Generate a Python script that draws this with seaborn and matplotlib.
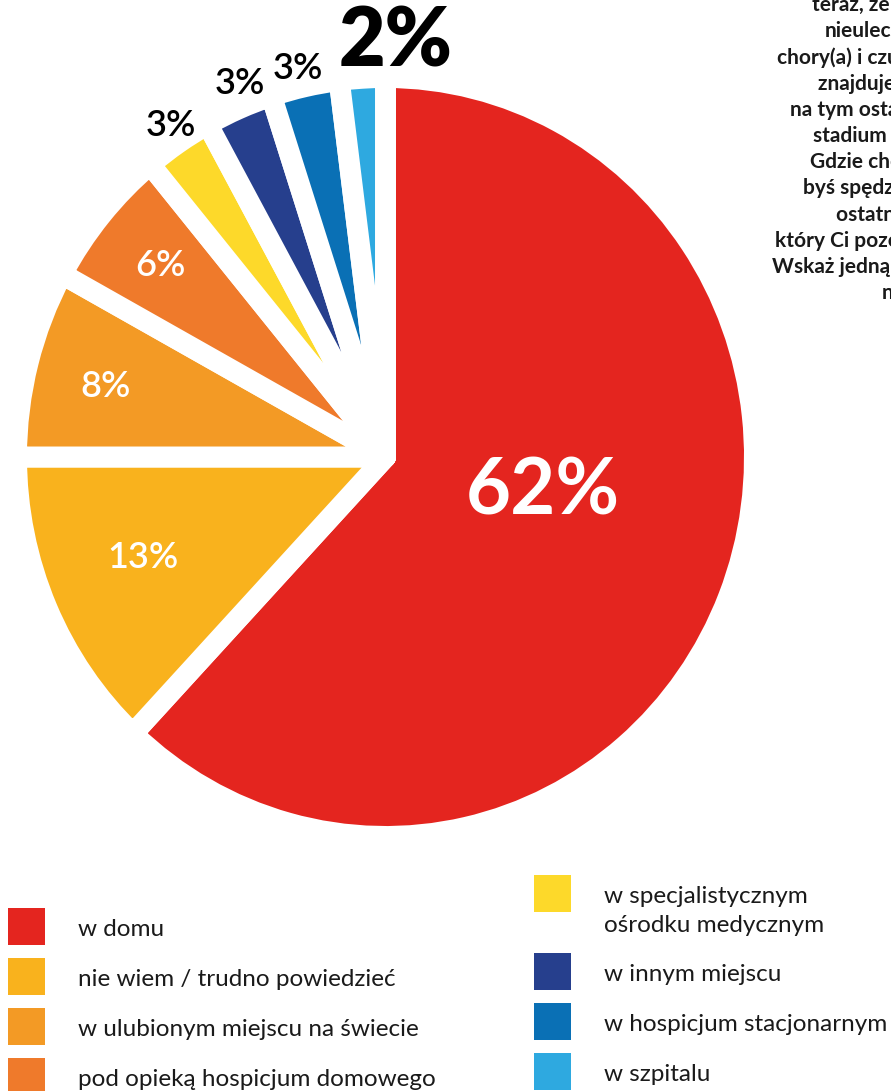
import matplotlib
matplotlib.use("Agg")
import matplotlib.pyplot as plt
from matplotlib.patches import Rectangle
import numpy as np
import seaborn as sns

# Survey answers: where would you like to spend the last period of life
categories = [
    "w domu",
    "nie wiem / trudno powiedzieć",
    "w ulubionym miejscu na świecie",
    "pod opieką hospicjum domowego",
    "w specjalistycznym\nośrodku medycznym",
    "w innym miejscu",
    "w hospicjum stacjonarnym",
    "w szpitalu",
]
shares = [62, 13, 8, 6, 3, 3, 3, 2]
colors = ["#E4251F", "#F9B21D", "#F39A25", "#EF7A2B",
          "#FDD92A", "#263F8D", "#0A70B5", "#2EA9E0"]

question_lines = [
    "teraz, że jesteś",
    "nieuleczalnie",
    "chory(a) i czujesz, że",
    "znajdujesz się",
    "na tym ostatnim etapie",
    "stadium życia.",
    "Gdzie chciałabyś/chciał-",
    "byś spędzić ten",
    "ostatni czas,",
    "który Ci pozostał?",
    "Wskaż jedną odpowiedź.",
    "n",
]
question_left = [812, 825, 777, 818, 790, 813, 810, 803, 836, 775, 772, 882]

sns.set_theme(style="white")
plt.rcParams["font.family"] = ["Lato", "DejaVu Sans"]

W, H = 891, 1091
fig = plt.figure(figsize=(W / 100, H / 100), dpi=100)
fig.patch.set_facecolor("white")


def fx(px):
    return px / W


def fy(py):
    return 1 - py / H


# pie axes (slightly taller than wide)
cx, cy, rx, ry = 385.5, 457.0, 369.0, 379.5
ax = fig.add_axes([fx(cx - rx), fy(cy + ry), 2 * rx / W, 2 * ry / H])
palette = sns.color_palette(colors)
wedges, _ = ax.pie(
    shares, colors=palette, startangle=90, counterclock=False, radius=1,
    wedgeprops=dict(edgecolor="white", linewidth=15.1, joinstyle="round"),
)
ax.set_aspect("auto")
ax.set_xlim(-1, 1)
ax.set_ylim(-1, 1)
ax.axis("off")

# percentage labels: radius, angular nudge, size, weight, colour
label_radius = [0.437, 0.71, 0.78, 0.79, 1.05, 1.06, 1.05, 1.09]
label_nudge = [9.4, -1.4, 0.7, 0.0, -0.6, -1.5, 0.4, -5.0]
label_size = [56, 26, 26, 26, 26, 26, 26, 58]
label_weight = ["bold", "semibold", "semibold", "semibold",
                "semibold", "semibold", "semibold", "heavy"]
label_color = ["white"] * 4 + ["black"] * 4

for w, val, r, d, s, wt, c in zip(wedges, shares, label_radius, label_nudge,
                                  label_size, label_weight, label_color):
    mid = np.deg2rad((w.theta1 + w.theta2) / 2 + d)
    ax.text(r * np.cos(mid), r * np.sin(mid), f"{val}%", ha="center",
            va="center", fontsize=s, fontweight=wt, color=c, clip_on=False)

# question text running off the right edge
for i, (line, x0) in enumerate(zip(question_lines, question_left)):
    fig.text(fx(x0), fy(5 + 26.2 * i), line, ha="left", va="center",
             fontsize=15, fontweight="bold", color="#1a1a1a")

# legend in two columns
sq = 37
columns = [(8, 908, categories[:4], colors[:4]),
           (534, 875, categories[4:], colors[4:])]
for x0, top, labels, cols in columns:
    y = top
    for lab, col in zip(labels, cols):
        fig.add_artist(Rectangle((fx(x0), fy(y + sq)), sq / W, sq / H,
                                 transform=fig.transFigure, facecolor=col,
                                 edgecolor="none"))
        nlines = lab.count("\n") + 1
        if nlines > 1:
            fig.text(fx(x0 + 70), fy(y + 11), lab, ha="left", va="top",
                     fontsize=17.5, fontweight="normal", color="#1a1a1a",
                     linespacing=1.5)
        else:
            fig.text(fx(x0 + 70), fy(y + sq / 2 + 3), lab, ha="left",
                     va="center", fontsize=17.5, fontweight="normal",
                     color="#1a1a1a")
        y += 50 + 28 * (nlines - 1)

fig.savefig("out.png", dpi=100, facecolor="white")
